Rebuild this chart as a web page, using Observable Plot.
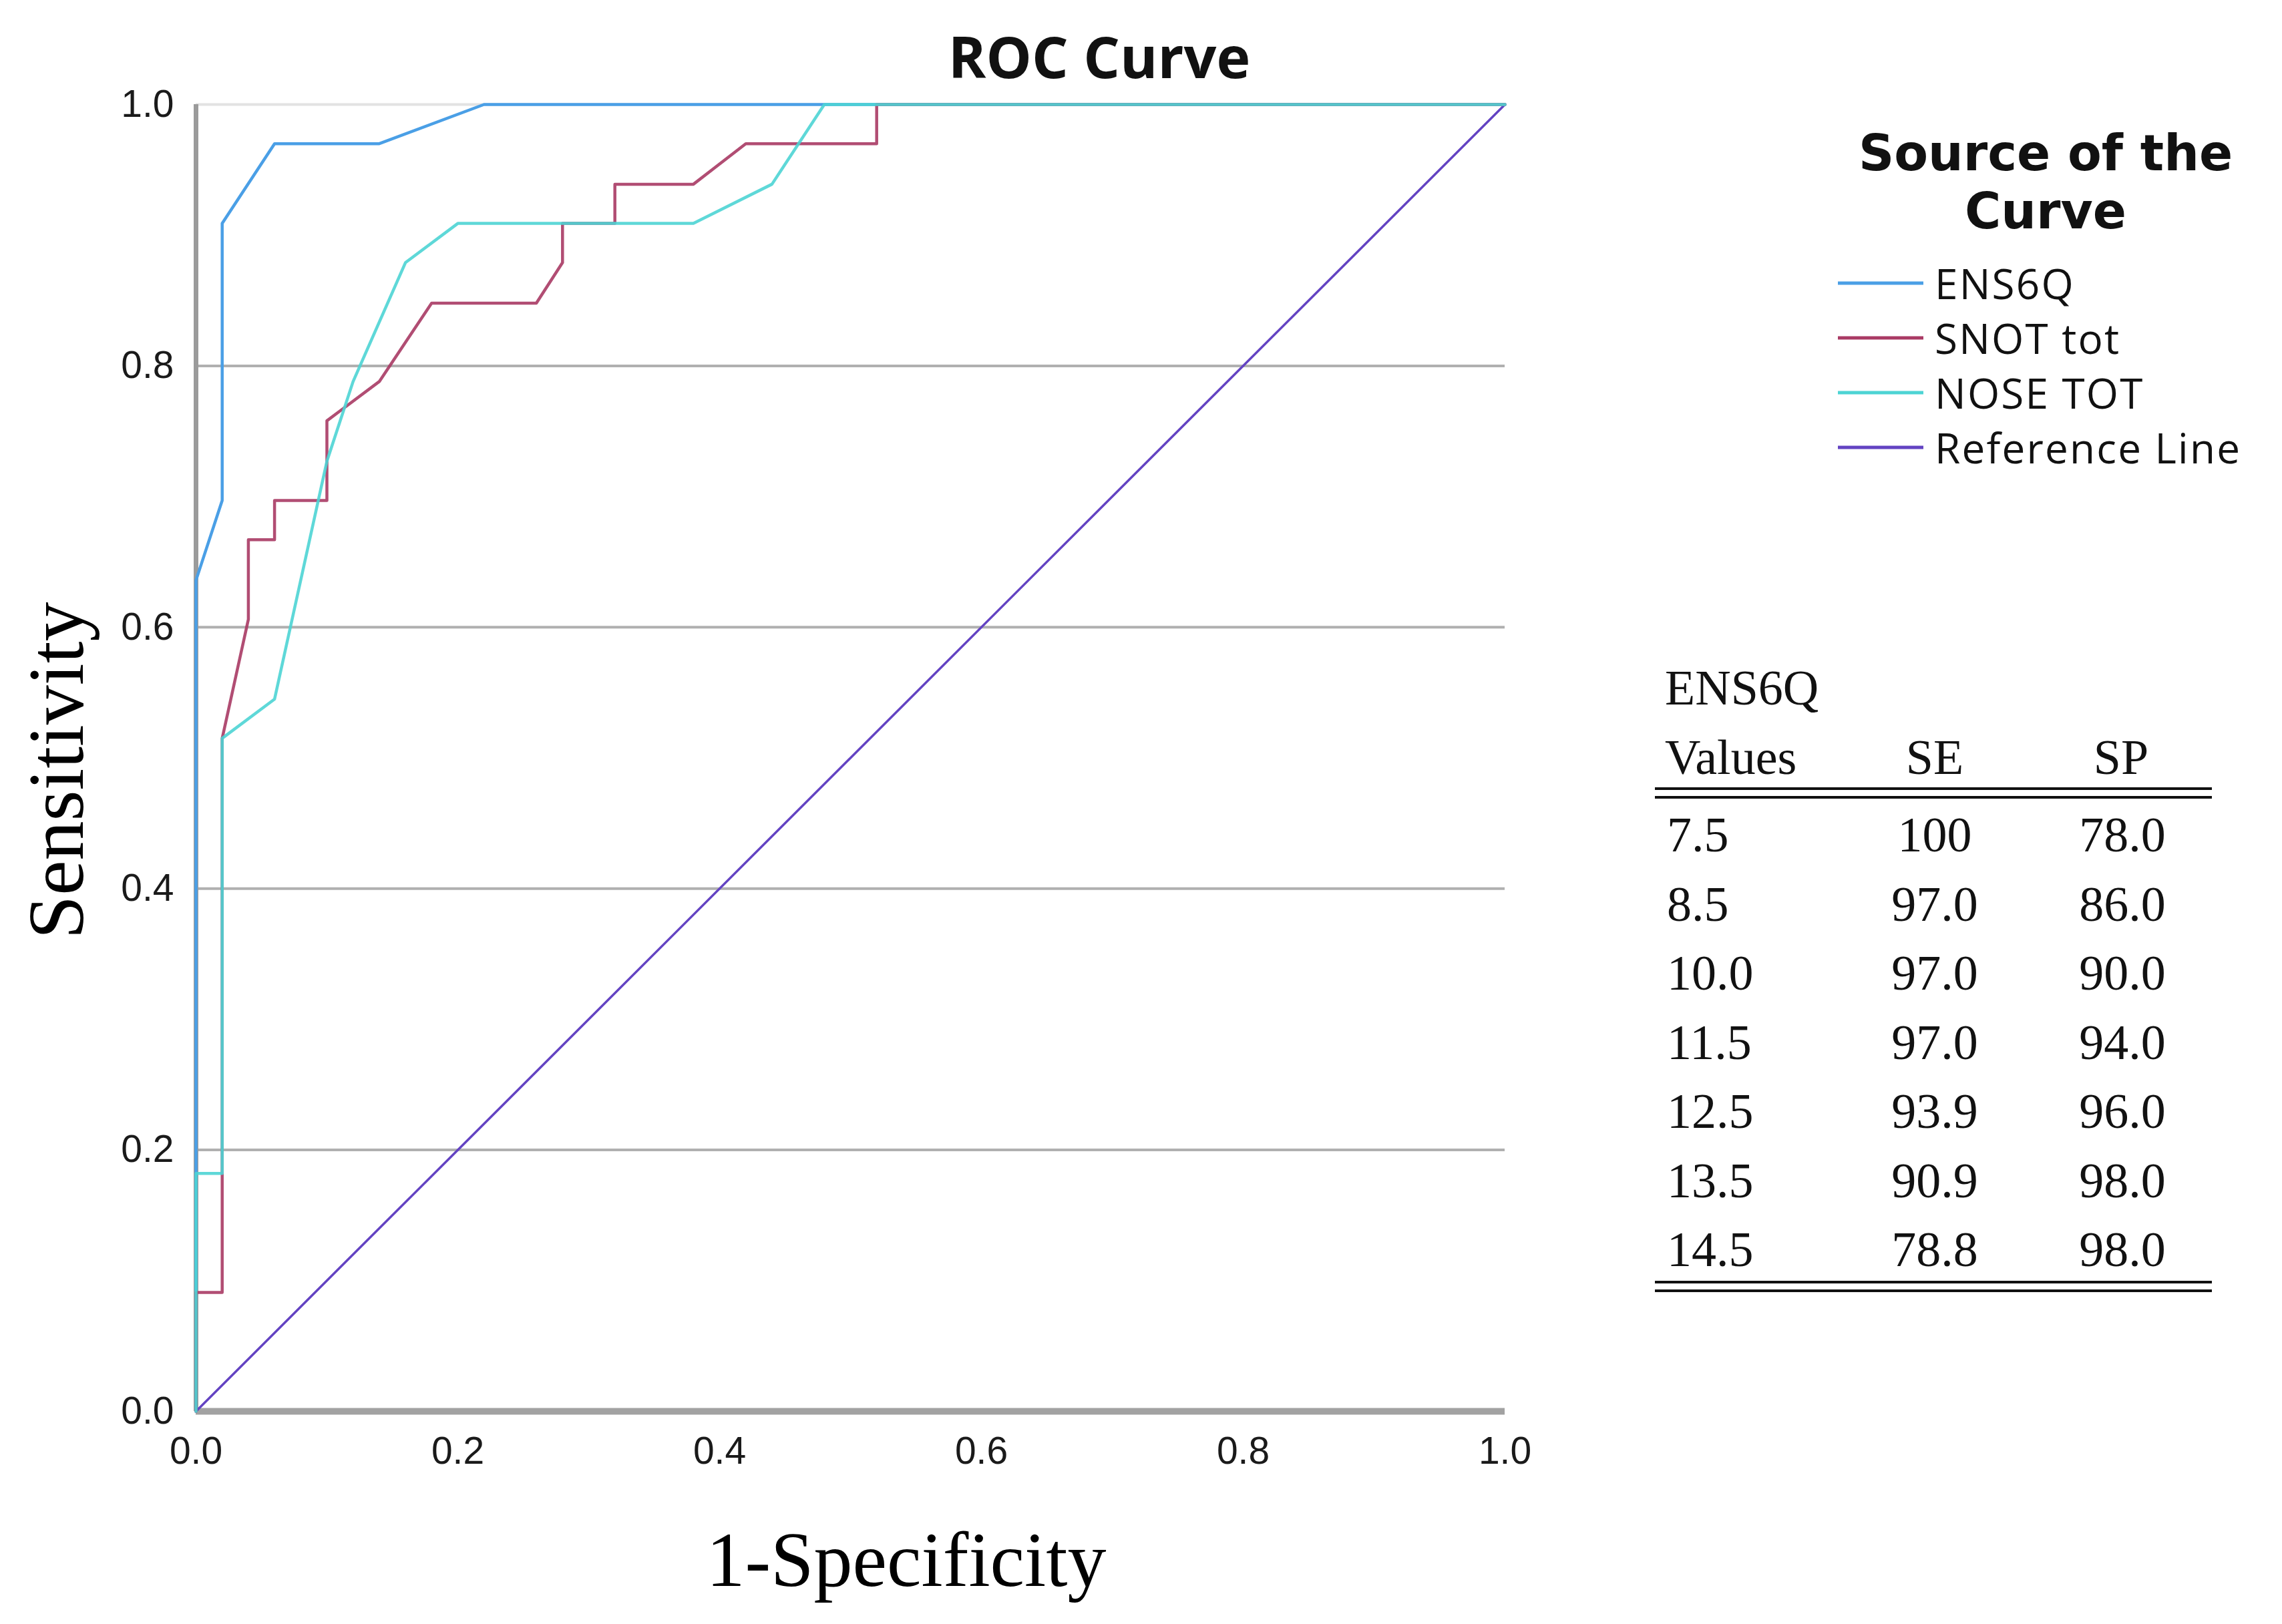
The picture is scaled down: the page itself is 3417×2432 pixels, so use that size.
<!DOCTYPE html>
<html>
<head>
<meta charset="utf-8">
<script src="https://cdn.jsdelivr.net/npm/d3@7"></script>
<script src="https://cdn.jsdelivr.net/npm/@observablehq/plot@0.6"></script>
<style>
html, body { margin: 0; padding: 0; background: #fff; }
#page { position: relative; width: 3417px; height: 2432px; overflow: hidden; background: #fff; }
#chart { position: absolute; left: 0; top: 0; }
#overlay { position: absolute; left: 0; top: 0; pointer-events: none; }
</style>
</head>
<body>
<div id="page"><div id="chart"></div><svg id="overlay" width="3417" height="2432"></svg></div>
<script>
// ---- Data ----
const seriesNames = ["ENS6Q", "SNOT tot", "NOSE TOT", "Reference Line"];
const seriesColors = ["#4a9fe6", "#a93a64", "#4dd4d4", "#6343c2"];

const ens6qX = [0, 0, 0.02, 0.02, 0.06, 0.14, 0.22, 1];
const ens6qY = [0, 0.636, 0.697, 0.909, 0.970, 0.970, 1, 1];

const snotX = [0, 0, 0.02, 0.02, 0.04, 0.04, 0.06, 0.06, 0.10, 0.10, 0.14, 0.18, 0.26, 0.28, 0.28, 0.32, 0.32, 0.38, 0.42, 0.52, 0.52, 1];
const snotY = [0, 0.091, 0.091, 0.515, 0.606, 0.667, 0.667, 0.697, 0.697, 0.758, 0.788, 0.848, 0.848, 0.879, 0.909, 0.909, 0.939, 0.939, 0.970, 0.970, 1, 1];

const noseX = [0, 0, 0.02, 0.02, 0.06, 0.10, 0.12, 0.16, 0.20, 0.38, 0.44, 0.48, 1];
const noseY = [0, 0.182, 0.182, 0.515, 0.545, 0.727, 0.788, 0.879, 0.909, 0.909, 0.939, 1, 1];

const refX = [0, 1];
const refY = [0, 1];

const axisTicks = [0, 0.2, 0.4, 0.6, 0.8, 1.0];
const gridTicks = [0.2, 0.4, 0.6, 0.8];

const tableValues = ["7.5", "8.5", "10.0", "11.5", "12.5", "13.5", "14.5"];
const tableSE = ["100", "97.0", "97.0", "97.0", "93.9", "90.9", "78.8"];
const tableSP = ["78.0", "86.0", "90.0", "94.0", "96.0", "98.0", "98.0"];

const toPts = (xs, ys) => xs.map((x, i) => ({x, y: ys[i]}));

const sansTick = "Liberation Sans, Arial, sans-serif";
const serif = "Liberation Serif, Times New Roman, serif";
const sansUI = "Open Sans, Lato, sans-serif";
const sansBold = "DejaVu Sans, Open Sans, sans-serif";

const chart = Plot.plot({
  width: 2400,
  height: 2432,
  marginLeft: 293,
  marginRight: 147,
  marginTop: 156,
  marginBottom: 319,
  style: {fontSize: "57px", fontFamily: sansTick, background: "transparent", color: "#1a1a1a"},
  x: {domain: [0, 1], nice: false},
  y: {domain: [0, 1], nice: false},
  marks: [
    Plot.ruleY(gridTicks, {stroke: "#b0b0b0", strokeWidth: 4}),
    Plot.ruleY([1], {stroke: "#e2e2e2", strokeWidth: 4}),
    Plot.ruleX([0], {stroke: "#9b9b9b", strokeWidth: 7}),
    Plot.ruleY([0], {stroke: "#a2a2a2", strokeWidth: 10}),
    Plot.axisX({ticks: axisTicks, tickSize: 0, tickPadding: 38, tickFormat: d3.format(".1f"), label: null, fontSize: 57, fontFamily: sansTick}),
    Plot.axisY({ticks: axisTicks, tickSize: 0, tickPadding: 33, tickFormat: d3.format(".1f"), label: null, fontSize: 57, fontFamily: sansTick}),
    Plot.line(toPts(refX, refY), {x: "x", y: "y", stroke: seriesColors[3], strokeWidth: 3.5}),
    Plot.line(toPts(ens6qX, ens6qY), {x: "x", y: "y", stroke: seriesColors[0], strokeWidth: 4.5}),
    Plot.line(toPts(snotX, snotY), {x: "x", y: "y", stroke: seriesColors[1], strokeWidth: 4.5, strokeOpacity: 0.9}),
    Plot.line(toPts(noseX, noseY), {x: "x", y: "y", stroke: seriesColors[2], strokeWidth: 4.5, strokeOpacity: 0.9})
  ]
});
document.getElementById("chart").appendChild(chart);

// ---- Titles, legend and table as real text ----
const svg = d3.select("#overlay");

svg.append("text").attr("x", 1646).attr("y", 117).attr("text-anchor", "middle")
  .attr("font-family", sansUI).attr("font-weight", 700).attr("font-size", 86).attr("fill", "#111")
  .text("ROC Curve");

svg.append("text").attr("x", 1357).attr("y", 2375).attr("text-anchor", "middle")
  .attr("font-family", serif).attr("font-size", 116).attr("fill", "#000")
  .text("1-Specificity");

svg.append("text").attr("transform", "translate(124,1154) rotate(-90)").attr("text-anchor", "middle")
  .attr("font-family", serif).attr("font-size", 118).attr("fill", "#000")
  .text("Sensitivity");

// Legend
const lg = svg.append("g");
lg.append("text").attr("x", 3063).attr("y", 255).attr("text-anchor", "middle")
  .attr("font-family", sansBold).attr("font-weight", 700).attr("font-size", 74).attr("fill", "#111")
  .text("Source of the");
lg.append("text").attr("x", 3063).attr("y", 342).attr("text-anchor", "middle")
  .attr("font-family", sansBold).attr("font-weight", 700).attr("font-size", 74).attr("fill", "#111")
  .text("Curve");
const legendY = [424, 506, 588, 670];
seriesNames.forEach((name, i) => {
  lg.append("line").attr("x1", 2752).attr("x2", 2880).attr("y1", legendY[i]).attr("y2", legendY[i])
    .attr("stroke", seriesColors[i]).attr("stroke-width", 5);
  lg.append("text").attr("x", 2897).attr("y", legendY[i] + 24)
    .attr("font-family", sansUI).attr("font-size", 62).attr("letter-spacing", 2.2).attr("fill", "#111")
    .text(name);
});

// Table
const tb = svg.append("g").attr("font-family", serif).attr("font-size", 74).attr("fill", "#111");
tb.append("text").attr("x", 2493).attr("y", 1055).text("ENS6Q");
tb.append("text").attr("x", 2493).attr("y", 1159).text("Values");
tb.append("text").attr("x", 2897).attr("y", 1159).attr("text-anchor", "middle").text("SE");
tb.append("text").attr("x", 3176).attr("y", 1159).attr("text-anchor", "middle").text("SP");
[1181, 1194, 1920, 1933].forEach(y => {
  tb.append("line").attr("x1", 2478).attr("x2", 3312).attr("y1", y).attr("y2", y)
    .attr("stroke", "#111").attr("stroke-width", 4);
});
tableValues.forEach((v, i) => {
  const y = 1275 + i * 103.5;
  tb.append("text").attr("x", 2496).attr("y", y).text(v);
  tb.append("text").attr("x", 2897).attr("y", y).attr("text-anchor", "middle").text(tableSE[i]);
  tb.append("text").attr("x", 3178).attr("y", y).attr("text-anchor", "middle").text(tableSP[i]);
});
</script>
</body>
</html>
